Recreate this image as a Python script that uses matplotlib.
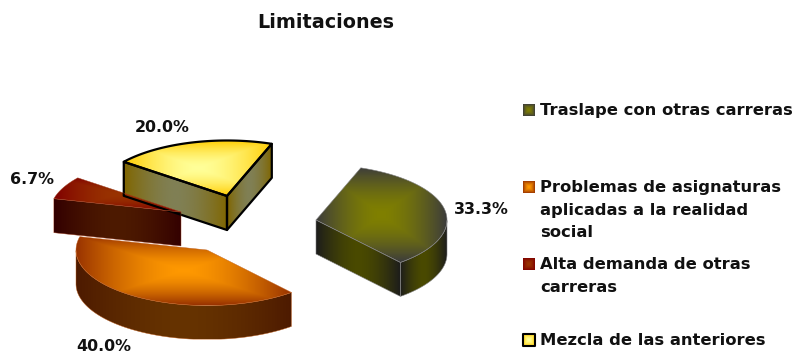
import numpy as np
import matplotlib
matplotlib.use('Agg')
import matplotlib.pyplot as plt
from matplotlib.patches import Polygon

labels = ['Traslape con otras carreras',
          'Problemas de asignaturas\naplicadas a la realidad\nsocial',
          'Alta demanda de otras\ncarreras',
          'Mezcla de las anteriores']
values = [33.3, 40.0, 6.7, 20.0]
pct_pos = [(481, 209), (104, 346.5), (32, 180), (162, 127)]

# exploded centres of the slices, in pixels
centres = [(316, 220), (207, 250), (181, 212), (227, 196)]
top_cols = [('#808000', '#3c3c3c'), ('#ff9900', '#993300'), ('#993300', '#800000'), ('#ffff99', '#ffcc00')]
side_cols = [('#4a4a00', '#1c1c1c'), ('#663300', '#4d1a00'), ('#4d1a00', '#330000'), ('#808055', '#806600')]
edge_cols = ['#808080', '#c06020', '#a04020', '#000000']
edge_w = [0.4, 0.3, 0.3, 1.6]
legend_y = [110, 187, 264, 340]

RX, RY, DEPTH = 131, 55.5, 34
START = 70


def pt(c, a, dz=0):
    r = np.radians(a)
    return c[0] + RX * np.cos(r), c[1] - RY * np.sin(r) + dz


def gradient(ax, verts, inner, outer, mode, edge=None, lw=0):
    """Fill a polygon with a centre-out gradient clipped to it."""
    verts = np.array(verts)
    x0, y0 = verts.min(axis=0)
    x1, y1 = verts.max(axis=0)
    u, v = np.meshgrid(np.linspace(-1, 1, 200), np.linspace(-1, 1, 200))
    t = np.maximum(abs(u), abs(v)) if mode == 'box' else abs(u)
    t = t ** 1.6
    a = np.array(matplotlib.colors.to_rgb(inner))
    b = np.array(matplotlib.colors.to_rgb(outer))
    img = a + (b - a) * t[..., None]
    im = ax.imshow(img, extent=(x0, x1, y1, y0), aspect='auto', interpolation='bilinear')
    poly = Polygon(verts, closed=True, fc='none', ec=edge if edge else 'none', lw=lw, joinstyle='round')
    ax.add_patch(poly)
    im.set_clip_path(poly)


fig = plt.figure(figsize=(7.96, 3.54), dpi=100)
ax = fig.add_axes([0, 0, 1, 1])
ax.set_xlim(0, 796)
ax.set_ylim(354, 0)
ax.autoscale(False)
ax.axis('off')

# slice angles from the values, clockwise from START
angles = START - np.cumsum([0] + values) * 3.6 / (sum(values) / 100)

for i in [3, 2, 1, 0]:
    c = centres[i]
    a0, a1 = angles[i], angles[i + 1]
    (inner, outer), ec, lw = side_cols[i], edge_cols[i], edge_w[i]

    # straight cut faces that look at the viewer
    for a, show in ((a0, np.cos(np.radians(a0)) < 0), (a1, np.cos(np.radians(a1)) > 0)):
        if show:
            p = pt(c, a)
            q = pt(c, a, DEPTH)
            gradient(ax, [c, p, q, (c[0], c[1] + DEPTH)], inner, outer, 'h', ec, lw)

    # rim, only where it faces front
    arc = [a for a in np.linspace(a0, a1, 120) if np.sin(np.radians(a)) < 0]
    if arc:
        rim = [pt(c, a) for a in arc] + [pt(c, a, DEPTH) for a in arc[::-1]]
        gradient(ax, rim, inner, outer, 'h', ec, lw)

    top = [c] + [pt(c, a) for a in np.linspace(a0, a1, 120)]
    gradient(ax, top, top_cols[i][0], top_cols[i][1], 'box', ec, lw)

ax.text(326, 22, 'Limitaciones', ha='center', va='center', fontsize=13.8, fontweight='bold', color='#111111')

for v, (x, y) in zip(values, pct_pos):
    ax.text(x, y, f'{v:.1f}%', ha='center', va='center', fontsize=11.4, fontweight='bold', color='#111111')

for i, lab in enumerate(labels):
    y = legend_y[i]
    sq = [(523, y - 6), (535, y - 6), (535, y + 6), (523, y + 6)]
    ec = '#000000' if i == 3 else None
    gradient(ax, sq, top_cols[i][0], top_cols[i][1], 'box', ec, 1.5 if i == 3 else 0)
    ax.text(540, y - 7, lab, ha='left', va='top', fontsize=11.8, fontweight='bold', color='#111111', linespacing=1.63)

fig.savefig('out.png', dpi=100)
